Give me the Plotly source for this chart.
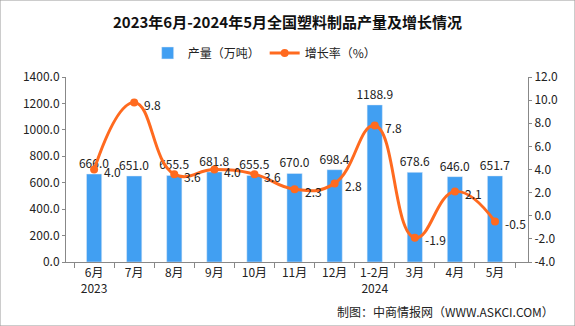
import plotly.graph_objects as go

categories = ["6月<br>2023", "7月", "8月", "9月", "10月", "11月", "12月", "1-2月<br>2024", "3月", "4月", "5月"]
output = [666.0, 651.0, 655.5, 681.8, 655.5, 670.0, 698.4, 1188.9, 678.6, 646.0, 651.7]
growth = [4.0, 9.8, 3.6, 4.0, 3.6, 2.3, 2.8, 7.8, -1.9, 2.1, -0.5]
left_ticks = [0, 200, 400, 600, 800, 1000, 1200, 1400]
right_ticks = [-4, -2, 0, 2, 4, 6, 8, 10, 12]

FONT = "Noto Sans CJK SC"
BAR = "#419FF2"
LINE = "#FF6A1F"

fig = go.Figure()
fig.add_trace(go.Bar(
    x=categories, y=output, name="产量（万吨）", marker_color=BAR, width=0.38,
    text=[f"{v:.1f}" for v in output], textposition="outside", cliponaxis=False,
    constraintext="none",
    textfont=dict(size=12, color="#222", family=FONT),
))
fig.add_trace(go.Scatter(
    x=categories, y=growth, name="增长率（%）", yaxis="y2", mode="lines+markers",
    line=dict(color=LINE, width=3, shape="spline", smoothing=1.3),
    marker=dict(size=8, color=LINE),
))

line_labels = [dict(x=c, y=g, xref="x", yref="y2", text=f"{g:.1f}", showarrow=False,
                    xanchor="left", yanchor="middle", xshift=8, yshift=-2,
                    font=dict(size=12, color="#222", family=FONT))
               for c, g in zip(categories, growth)]

fig.update_layout(
    width=575, height=326, margin=dict(l=66, r=47, t=77, b=64),
    paper_bgcolor="white", plot_bgcolor="white",
    font=dict(family=FONT, size=12, color="#222"),
    title=dict(text="<b>2023年6月-2024年5月全国塑料制品产量及增长情况</b>",
               x=0.5, xanchor="center", y=0.93, yanchor="middle",
               font=dict(size=15, color="#111", family=FONT)),
    legend=dict(orientation="h", x=0.43, xanchor="center", y=1.13, yanchor="middle",
                font=dict(size=12, family=FONT), itemwidth=30, bgcolor="rgba(0,0,0,0)"),
    xaxis=dict(showline=True, linecolor="#888", ticks="outside", tickson="boundaries",
               ticklen=5, tickcolor="#888", tickfont=dict(size=12)),
    yaxis=dict(range=[0, 1400], tickvals=left_ticks, ticktext=[f"{v:.1f}" for v in left_ticks],
               showline=True, linecolor="#888", ticks="outside", ticklen=3, tickcolor="#888",
               showgrid=False, zeroline=False, tickfont=dict(size=12)),
    yaxis2=dict(range=[-4, 12], tickvals=right_ticks, ticktext=[f"{v:.1f}" for v in right_ticks],
                overlaying="y", side="right", showline=True, linecolor="#888", ticks="outside",
                ticklen=3, tickcolor="#888", showgrid=False, zeroline=False, tickfont=dict(size=12)),
    shapes=[dict(type="rect", xref="paper", yref="paper", x0=-66/462, x1=1+47/462,
                 y0=-64/185, y1=1+77/185, line=dict(color="#999", width=1))],
    annotations=line_labels + [dict(text="制图：中商情报网（WWW.ASKCI.COM）", xref="paper", yref="paper",
                      x=1.06, y=-0.27, xanchor="right", yanchor="middle", showarrow=False,
                      font=dict(size=12, color="#222", family=FONT))],
)

fig.write_html("out.html")
